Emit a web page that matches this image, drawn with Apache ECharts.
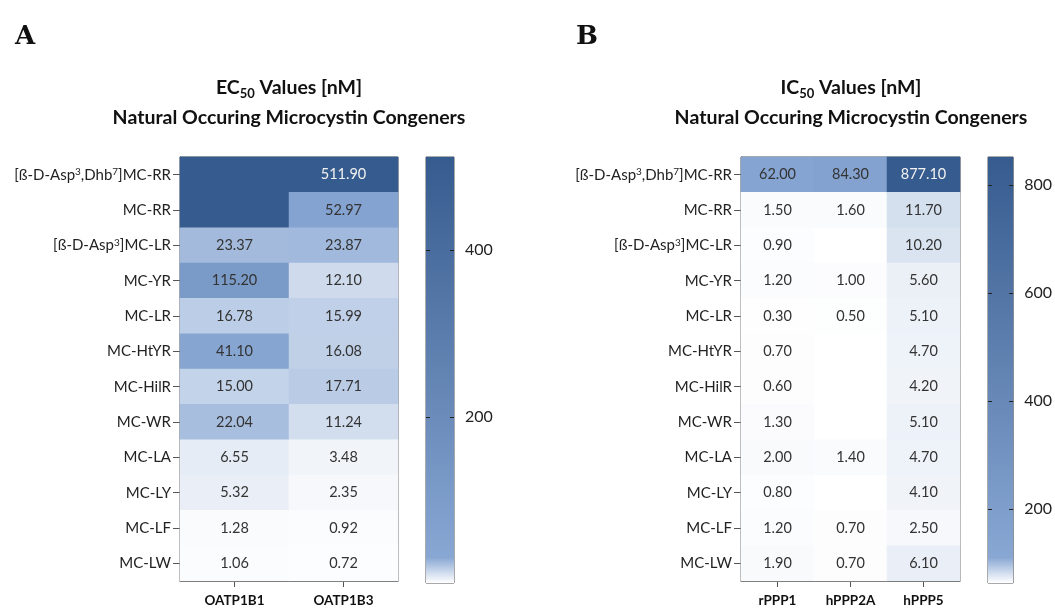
<!DOCTYPE html>
<html>
<head>
<meta charset="utf-8">
<script src="https://cdn.jsdelivr.net/npm/echarts@6/dist/echarts.min.js"></script>
<style>
  html, body { margin: 0; padding: 0; background: #ffffff; }
  #chart { width: 1055px; height: 608px; }
</style>
</head>
<body>
<div id="chart"></div>
<script>
// Microcystin congeners, listed top to bottom (^n marks a superscript)
const congeners = [
  '[ß-D-Asp^3,Dhb^7]MC-RR', 'MC-RR', '[ß-D-Asp^3]MC-LR', 'MC-YR', 'MC-LR', 'MC-HtYR',
  'MC-HilR', 'MC-WR', 'MC-LA', 'MC-LY', 'MC-LF', 'MC-LW'
];

// Panel A: EC50 [nM] in OATP-expressing cells
const transporters = ['OATP1B1', 'OATP1B3'];
const ABOVE = '>'; // beyond the top of the scale: filled with the top colour, no number
const ecOATP1B1 = [ABOVE, ABOVE, 23.37, 115.20, 16.78, 41.10, 15.00, 22.04, 6.55, 5.32, 1.28, 1.06];
const ecOATP1B3 = [511.90, 52.97, 23.87, 12.10, 15.99, 16.08, 17.71, 11.24, 3.48, 2.35, 0.92, 0.72];

// Panel B: IC50 [nM] for protein phosphatases (null = no value)
const phosphatases = ['rPPP1', 'hPPP2A', 'hPPP5'];
const icRPPP1  = [62.00, 1.50, 0.90, 1.20, 0.30, 0.70, 0.60, 1.30, 2.00, 0.80, 1.20, 1.90];
const icHPPP2A = [84.30, 1.60, null, 1.00, 0.50, null, null, null, 1.40, null, 0.70, 0.70];
const icHPPP5  = [877.10, 11.70, 10.20, 5.60, 5.10, 4.70, 4.20, 5.10, 4.70, 4.10, 2.50, 6.10];

// Colour-scale ranges of the cells and of the scale bars, with bar tick labels
const ecScale = [0, 511.9];
const icScale = [0, 877.1];
const ecBar = [0, 511.9];
const icBar = [62, 852];
const ecBarTicks = [200, 400];
const icBarTicks = [200, 400, 600, 800];

const FONT = 'Lato';
const TXT = '#222222';
const FRAME = '#555555';

// White -> light blue knee -> dark blue
const C_WHITE = [255, 255, 255];
const C_KNEE = [136, 167, 211];
const C_DARK = [54, 91, 142];
const mix = (a, b, t) => 'rgb(' + a.map((v, i) => Math.round(v + (b[i] - v) * t)).join(',') + ')';
function rampColors(knee, max, n) {
  const out = [];
  for (let i = 0; i <= n; i++) {
    const v = max * i / n;
    out.push(v <= knee ? mix(C_WHITE, C_KNEE, v / knee) : mix(C_KNEE, C_DARK, (v - knee) / (max - knee)));
  }
  return out;
}
const barGradient = () => new echarts.graphic.LinearGradient(0, 1, 0, 0, [
  { offset: 0, color: mix(C_WHITE, C_WHITE, 0) },
  { offset: 0.06, color: mix(C_KNEE, C_KNEE, 0) },
  { offset: 1, color: mix(C_DARK, C_DARK, 0) }
]);

function cells(columns, topValue) {
  const data = [];
  columns.forEach((col, x) => {
    col.forEach((v, y) => {
      if (v === null) return;
      const above = v === ABOVE;
      const val = above ? topValue : v;
      data.push({
        value: [x, y, val],
        label: {
          show: !above,
          color: val / topValue > 0.5 ? '#f2f2f2' : '#333333'
        }
      });
    });
  });
  return data;
}

const supLabel = s => s.replace(/\^(\d+)/g, '{sup|$1}');
const richY = {
  sup: { fontSize: 10, fontFamily: FONT, color: TXT, verticalAlign: 'top', lineHeight: 12 }
};

function heatGrid(idx) {
  return [
    { // x axis
      type: 'category', gridIndex: idx, data: idx === 0 ? transporters : phosphatases,
      position: 'bottom',
      axisLine: { show: true, lineStyle: { color: FRAME } },
      axisTick: { show: true, alignWithLabel: true, length: 6, lineStyle: { color: FRAME } },
      axisLabel: { fontFamily: FONT, fontWeight: 'bold', fontSize: 13.5, color: '#111', margin: 13 },
      splitArea: { show: false }, splitLine: { show: false }
    },
    { // y axis
      type: 'category', gridIndex: idx, data: congeners, inverse: true,
      axisLine: { show: true, lineStyle: { color: FRAME } },
      axisTick: { show: true, alignWithLabel: true, length: 7, lineStyle: { color: FRAME } },
      axisLabel: {
        fontFamily: FONT, fontSize: 15, color: TXT, margin: 9,
        formatter: supLabel, rich: richY
      },
      splitArea: { show: false }, splitLine: { show: false }
    }
  ];
}

// Scale bar value axis: labels on the right, ticks drawn by the bar series on both edges
function barAxis(gridIdx, range, ticks) {
  return {
    type: 'value', gridIndex: gridIdx, min: range[0], max: range[1], position: 'right',
    splitLine: { show: false }, axisLine: { show: false }, axisTick: { show: false },
    axisLabel: { show: true, customValues: ticks, fontFamily: FONT, fontSize: 16, color: TXT, margin: 11 }
  };
}

const [xA, yA] = heatGrid(0);
const [xB, yB] = heatGrid(2);
const hiddenCat = g => ({ type: 'category', gridIndex: g, data: ['scale'], show: false });

const titleRich = {
  b: { fontFamily: FONT, fontWeight: 'bold', fontSize: 19.5, color: '#111', lineHeight: 24 },
  s: { fontFamily: FONT, fontWeight: 'bold', fontSize: 13, color: '#111', verticalAlign: 'bottom', lineHeight: 18 }
};
const titleLine = (text, left, top) => ({
  text, left, top, textAlign: 'center',
  textStyle: { fontFamily: FONT, fontWeight: 'bold', fontSize: 19.5, color: '#111', rich: titleRich }
});
const letter = (text, left) => ({
  text, left, top: 19,
  textStyle: { fontFamily: 'DejaVu Serif', fontWeight: 'bold', fontSize: 26, color: '#111' }
});

// Gradient scale bar with short inward ticks on both edges
const colourBar = (xi, yi, range, ticks) => ({
  type: 'custom', xAxisIndex: xi, yAxisIndex: yi, silent: true, z: 1,
  data: [[0, range[0], range[1]]],
  encode: { x: 0, y: [1, 2] },
  renderItem: (params, api) => {
    const top = api.coord([0, api.value(2)]);
    const bottom = api.coord([0, api.value(1)]);
    const w = api.size([1, 0])[0];
    const x0 = top[0] - w / 2, x1 = top[0] + w / 2;
    const children = [{
      type: 'rect',
      shape: { x: x0, y: top[1], width: w, height: bottom[1] - top[1] },
      style: { fill: barGradient() }
    }];
    ticks.forEach(t => {
      const y = Math.round(api.coord([0, t])[1]) + 0.5;
      children.push({ type: 'line', shape: { x1: x0, y1: y, x2: x0 + 4, y2: y }, style: { stroke: '#222', lineWidth: 1 } });
      children.push({ type: 'line', shape: { x1: x1 - 4, y1: y, x2: x1, y2: y }, style: { stroke: '#222', lineWidth: 1 } });
    });
    return { type: 'group', children };
  }
});

const heatLabel = {
  show: true, fontFamily: FONT, fontSize: 14.5,
  formatter: p => p.value[2].toFixed(2)
};

const option = {
  backgroundColor: '#ffffff',
  animation: false,
  title: [
    letter('A', 10), letter('B', 571),
    titleLine('{b|EC}{s|50}{b| Values [nM]}', 284, 71),
    titleLine('{b|Natural Occuring Microcystin Congeners}', 284, 101),
    titleLine('{b|IC}{s|50}{b| Values [nM]}', 846, 71),
    titleLine('{b|Natural Occuring Microcystin Congeners}', 846, 101)
  ],
  grid: [
    { left: 180, top: 157, width: 218, height: 425, show: true, borderColor: FRAME, borderWidth: 1, backgroundColor: 'transparent' },
    { left: 426, top: 157, width: 28, height: 426, show: true, borderColor: FRAME, borderWidth: 1, backgroundColor: 'transparent' },
    { left: 741, top: 157, width: 219, height: 425, show: true, borderColor: FRAME, borderWidth: 1, backgroundColor: 'transparent' },
    { left: 988, top: 157, width: 28, height: 426, show: true, borderColor: FRAME, borderWidth: 1, backgroundColor: 'transparent' }
  ],
  xAxis: [xA, hiddenCat(1), xB, hiddenCat(3)],
  yAxis: [yA, barAxis(1, ecBar, ecBarTicks), yB, barAxis(3, icBar, icBarTicks)],
  visualMap: [
    { type: 'continuous', show: false, seriesIndex: 0, dimension: 2, min: ecScale[0], max: ecScale[1],
      inRange: { color: rampColors(30, ecScale[1], 400) } },
    { type: 'continuous', show: false, seriesIndex: 2, dimension: 2, min: icScale[0], max: icScale[1],
      inRange: { color: rampColors(33, icScale[1], 600) } }
  ],
  series: [
    { type: 'heatmap', xAxisIndex: 0, yAxisIndex: 0, data: cells([ecOATP1B1, ecOATP1B3], ecScale[1]), label: heatLabel, z: 1 },
    colourBar(1, 1, ecBar, ecBarTicks),
    { type: 'heatmap', xAxisIndex: 2, yAxisIndex: 2, data: cells([icRPPP1, icHPPP2A, icHPPP5], icScale[1]), label: heatLabel, z: 1 },
    colourBar(3, 3, icBar, icBarTicks)
  ]
};

const chart = echarts.init(document.getElementById('chart'), null, { renderer: 'canvas' });
chart.setOption(option);
</script>
</body>
</html>
